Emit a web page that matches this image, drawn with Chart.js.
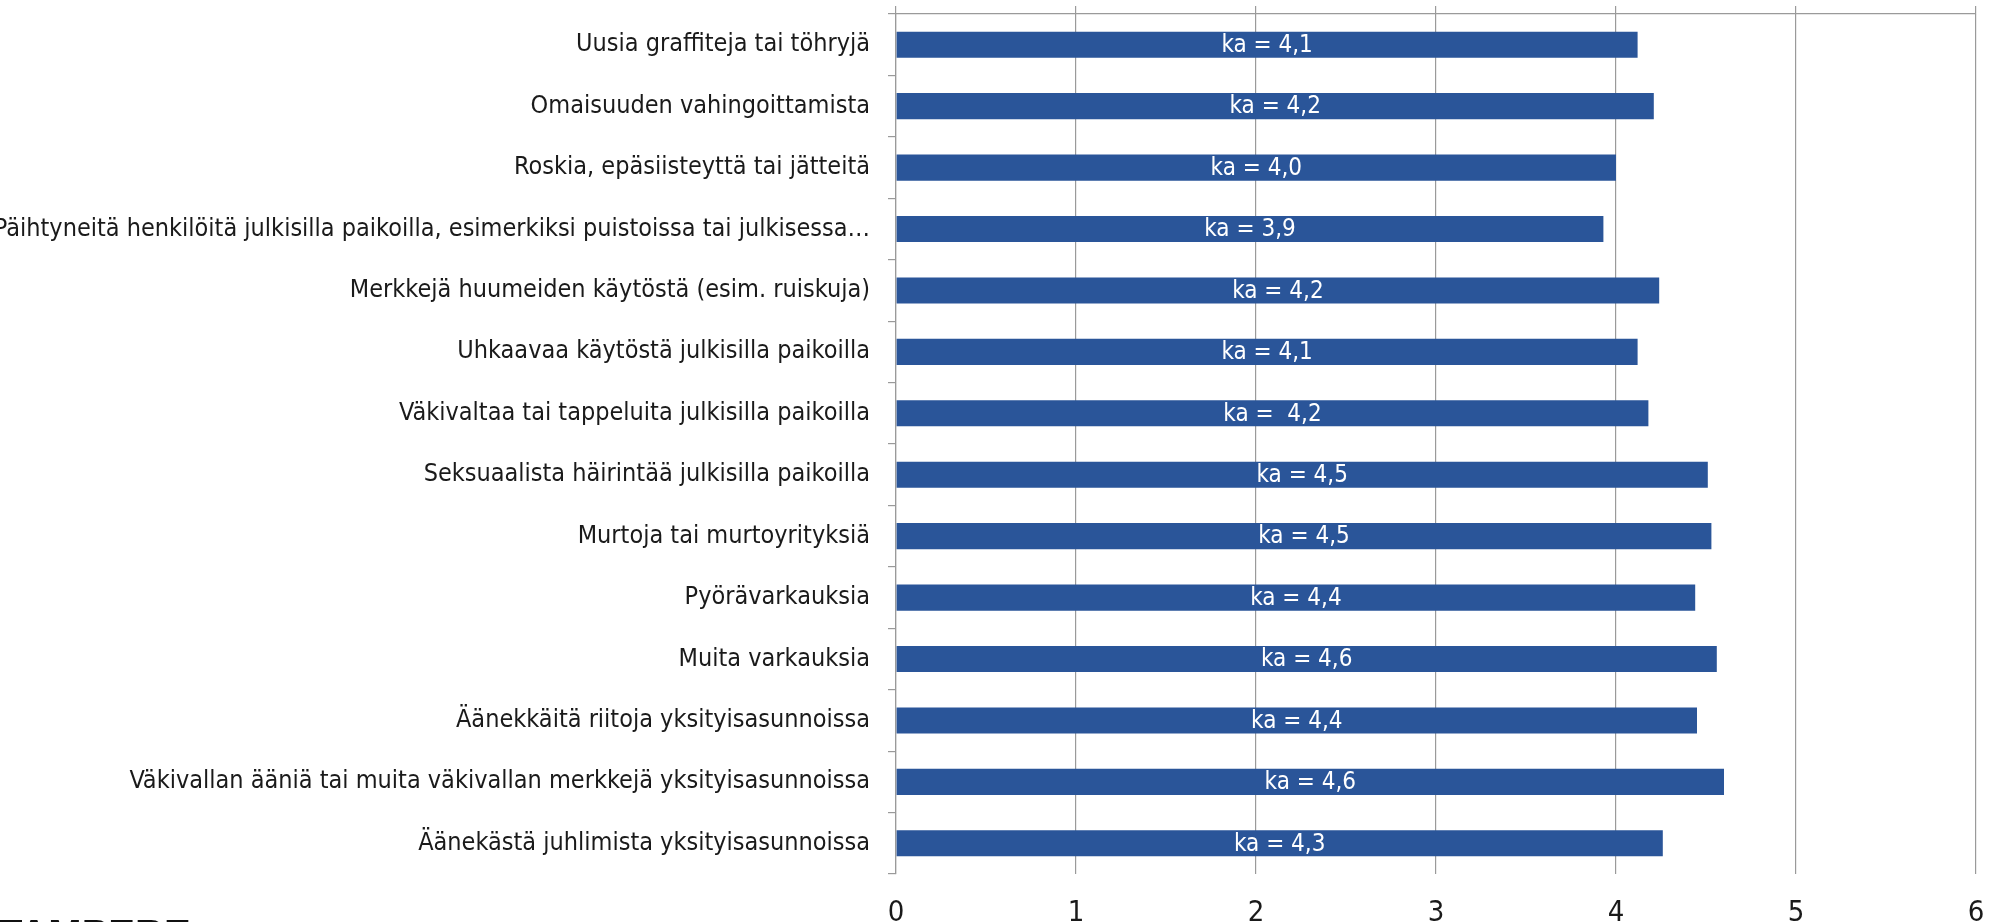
<!DOCTYPE html>
<html>
<head>
<meta charset="utf-8">
<script src="https://cdn.jsdelivr.net/npm/chart.js@4"></script>
<style>
  html, body { margin: 0; padding: 0; background: #fff; }
  #wrap { width: 1995px; height: 922px; position: relative; }
</style>
</head>
<body>
<div id="wrap"><canvas id="kaChart"></canvas></div>
<script>
// categories (top to bottom)
const categories = [
    'Uusia graffiteja tai töhryjä',
    'Omaisuuden vahingoittamista',
    'Roskia, epäsiisteyttä tai jätteitä',
    'Päihtyneitä henkilöitä julkisilla paikoilla, esimerkiksi puistoissa tai julkisessa…',
    'Merkkejä huumeiden käytöstä (esim. ruiskuja)',
    'Uhkaavaa käytöstä julkisilla paikoilla',
    'Väkivaltaa tai tappeluita julkisilla paikoilla',
    'Seksuaalista häirintää julkisilla paikoilla',
    'Murtoja tai murtoyrityksiä',
    'Pyörävarkauksia',
    'Muita varkauksia',
    'Äänekkäitä riitoja yksityisasunnoissa',
    'Väkivallan ääniä tai muita väkivallan merkkejä yksityisasunnoissa',
    'Äänekästä juhlimista yksityisasunnoissa'
];

// mean values (ka)
const means = [4.12, 4.21, 4.00, 3.93, 4.24, 4.12, 4.18, 4.51, 4.53, 4.44, 4.56, 4.45, 4.60, 4.26];

// labels written inside the bars
const barLabels = [
    'ka = 4,1', 'ka = 4,2', 'ka = 4,0', 'ka = 3,9', 'ka = 4,2', 'ka = 4,1', 'ka =  4,2',
    'ka = 4,5', 'ka = 4,5', 'ka = 4,4', 'ka = 4,6', 'ka = 4,4', 'ka = 4,6', 'ka = 4,3'
];

const axisMin = 0;
const axisMax = 6;

const gridGrey = '#9a9a9a';
const narrow = '"Liberation Sans Narrow", "DejaVu Sans Condensed", "Liberation Sans", sans-serif';

// white "ka = x" text centred in each bar
const barTextPlugin = {
    id: 'barText',
    afterDatasetsDraw(chart) {
        const ctx = chart.ctx;
        const meta = chart.getDatasetMeta(0);
        ctx.save();
        ctx.fillStyle = '#ffffff';
        ctx.font = '24px ' + narrow;
        ctx.textAlign = 'center';
        ctx.textBaseline = 'middle';
        meta.data.forEach((bar, i) => {
            const cx = (bar.base + bar.x) / 2;
            ctx.fillText(barLabels[i], cx, bar.y + 1);
        });
        ctx.restore();
    }
};

// cut-off logo text at the bottom-left corner
const logoPlugin = {
    id: 'logo',
    afterDraw(chart) {
        const ctx = chart.ctx;
        ctx.save();
        ctx.fillStyle = '#111111';
        ctx.font = 'bold 40px "Liberation Sans", Arial, sans-serif';
        ctx.textAlign = 'left';
        ctx.textBaseline = 'alphabetic';
        ctx.fillText('TAMPERE', -2, 948);
        ctx.restore();
    }
};

const ctxKa = document.getElementById('kaChart').getContext('2d');
const kaChart = new Chart(ctxKa, {
    type: 'bar',
    data: {
        labels: categories,
        datasets: [{
            label: 'ka',
            data: means,
            backgroundColor: '#2a5599',
            borderWidth: 0,
            barPercentage: 0.425,
            categoryPercentage: 1.0,
            xAxisID: 'x'
        }]
    },
    options: {
        indexAxis: 'y',
        responsive: true,
        maintainAspectRatio: false,
        animation: false,
        layout: {
            padding: { left: 0, right: 19, top: 6, bottom: 0 }
        },
        plugins: {
            legend: { display: false },
            tooltip: { enabled: false }
        },
        scales: {
            x: {
                type: 'linear',
                position: 'bottom',
                min: axisMin,
                max: axisMax,
                ticks: {
                    stepSize: 1,
                    color: '#1a1a1a',
                    padding: 25,
                    font: { family: narrow, size: 29, lineHeight: 1.0 }
                },
                grid: {
                    color: gridGrey,
                    lineWidth: 1.2,
                    drawTicks: false
                },
                border: { display: false },
                afterFit(scale) {
                    scale.height = 48;
                    scale.paddingLeft = 0;
                    scale.paddingRight = 0;
                }
            },
            x2: {
                type: 'linear',
                axis: 'x',
                position: 'top',
                min: axisMin,
                max: axisMax,
                ticks: { stepSize: 1, display: false },
                grid: {
                    color: gridGrey,
                    lineWidth: 1.2,
                    drawOnChartArea: false,
                    drawTicks: true,
                    tickLength: 8
                },
                border: { display: true, color: gridGrey, width: 1.2 },
                afterFit(scale) {
                    scale.height = 8;
                    scale.paddingLeft = 0;
                    scale.paddingRight = 0;
                }
            },
            y: {
                type: 'category',
                ticks: {
                    color: '#1a1a1a',
                    padding: 18,
                    autoSkip: false,
                    font: { family: narrow, size: 25 }
                },
                grid: {
                    color: gridGrey,
                    lineWidth: 1.2,
                    offset: true,
                    drawOnChartArea: false,
                    drawTicks: true,
                    tickLength: 8
                },
                border: { display: true, color: gridGrey, width: 1.2 },
                afterFit(scale) {
                    scale.width = 896;
                    scale.paddingTop = 0;
                    scale.paddingBottom = 0;
                }
            }
        }
    },
    plugins: [barTextPlugin, logoPlugin]
});
</script>
</body>
</html>
